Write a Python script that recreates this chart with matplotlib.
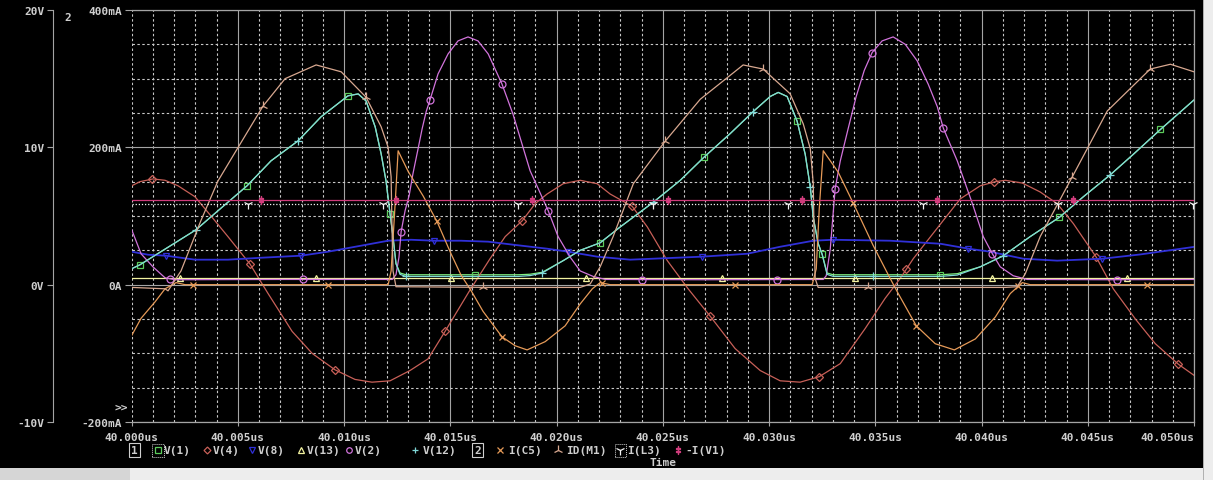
import numpy as np
import matplotlib.pyplot as plt
from matplotlib.lines import Line2D
from matplotlib.patches import Rectangle
from matplotlib.ticker import MultipleLocator

# time in ns after 40.000us, voltages in V, currents in mA
t_v1 = [0, 0.39, 3.03, 4.06, 5.43, 6.56, 7.83, 8.91, 10.18, 10.66, 11.03, 11.46,
        11.74, 11.97, 12.16, 12.30, 12.44, 12.63, 12.91, 15.0, 18.2, 18.75, 19.32,
        20.31, 21.11, 22.05, 22.99, 24.55, 25.82, 26.95, 28.17, 29.25, 30.05, 30.43,
        30.85, 31.32, 31.70, 31.94, 32.08, 32.31, 32.50, 32.73, 33.02, 36.0, 38.06,
        38.86, 39.94, 41.02, 42.29, 43.66, 44.79, 46.06, 47.15, 48.42, 50.0]
v1 = [1.16, 1.45, 4.0, 5.38, 7.2, 9.02, 10.47, 12.22, 13.75, 13.89, 13.38, 11.49,
      9.53, 7.56, 5.16, 3.49, 1.53, 0.85, 0.72, 0.72, 0.72, 0.76, 0.9,
      1.75, 2.5, 3.05, 4.2, 6.0, 7.6, 9.3, 11.0, 12.6, 13.7, 14.0,
      13.7, 11.9, 9.5, 7.1, 4.9, 3.0, 2.2, 0.85, 0.72, 0.72, 0.72,
      0.8, 1.3, 2.1, 3.5, 4.9, 6.4, 8.0, 9.5, 11.3, 13.45]
t_v12 = t_v1
v12 = [1.16, 1.45, 4.0, 5.38, 7.2, 9.02, 10.47, 12.22, 13.75, 13.89, 13.38, 11.49,
       9.53, 7.56, 5.16, 3.49, 1.53, 0.75, 0.6, 0.6, 0.6, 0.66, 0.85,
       1.75, 2.5, 3.05, 4.2, 6.0, 7.6, 9.3, 11.0, 12.6, 13.7, 14.0,
       13.7, 11.9, 9.5, 7.1, 4.9, 3.0, 2.2, 0.75, 0.6, 0.6, 0.6,
       0.7, 1.3, 2.1, 3.5, 4.9, 6.4, 8.0, 9.5, 11.3, 13.45]

t_v4 = [0, 0.39, 1.0, 1.57, 2.18, 2.98, 3.92, 4.53, 5.10, 5.57, 6.42, 7.55, 8.49,
        9.57, 10.51, 11.31, 12.16, 13.10, 13.95, 14.75, 15.88, 16.87, 17.58, 18.38,
        18.99, 19.55, 20.31, 21.11, 21.91, 22.52, 23.56, 24.27, 25.21, 26.19, 27.23,
        28.40, 29.58, 30.52, 31.46, 32.36, 33.35, 34.52, 35.46, 36.17, 36.79, 38.06,
        39.0, 39.94, 40.65, 41.12, 41.92, 42.76, 43.56, 44.32, 45.40, 46.20, 47.24,
        48.18, 49.27, 50.0]
v4 = [7.2, 7.5, 7.7, 7.6, 7.2, 6.4, 4.65, 3.5, 2.4, 1.5, -0.65, -3.4, -5.0,
      -6.2, -6.9, -7.1, -7.0, -6.25, -5.4, -3.4, -0.5, 1.9, 3.5, 4.65,
      5.9, 6.6, 7.35, 7.6, 7.35, 6.6, 5.7, 4.2, 1.75, -0.3, -2.3,
      -4.65, -6.25, -7.0, -7.1, -6.7, -5.75, -3.2, -1.0, 0.45, 1.9, 4.4,
      6.25, 7.2, 7.5, 7.6, 7.4, 6.75, 5.9, 4.45, 2.0, -0.3, -2.5,
      -4.3, -5.8, -6.6]

t_v8 = [0, 0.77, 1.61, 2.98, 4.53, 6.09, 7.97, 9.24, 10.80, 12.07, 13.15, 14.23,
        15.50, 16.78, 17.95, 19.55, 20.54, 21.91, 23.46, 26.86, 28.97, 30.52, 32.08,
        33.02, 35.70, 38.06, 39.38, 40.4, 41.96, 43.56, 45.69, 47.47, 50.0]
v8 = [2.4, 2.18, 2.11, 1.82, 1.82, 1.96, 2.11, 2.4, 2.84, 3.2, 3.27, 3.2,
      3.2, 3.13, 2.91, 2.62, 2.4, 2.04, 1.82, 2.04, 2.25, 2.76, 3.2,
      3.27, 3.2, 2.98, 2.62, 2.4, 1.89, 1.75, 1.89, 2.2, 2.75]

t_v13 = [0, 50.0]
v13 = [0.52, 0.52]

t_v2 = [0, 0.44, 1.0, 1.57, 2.04, 7.0, 12.26, 12.44, 12.58, 12.68, 12.87, 13.06,
        13.24, 13.48, 13.67, 13.86, 14.04, 14.42, 14.89, 15.36, 15.83, 16.30, 16.78,
        17.43, 17.95, 18.75, 19.60, 20.07, 20.64, 21.11, 21.72, 22.29, 27.0, 32.55,
        32.69, 32.88, 33.11, 33.35, 33.72, 34.10, 34.48, 34.85, 35.32, 35.84, 36.41,
        36.97, 37.49, 37.92, 38.20, 38.86, 39.57, 40.08, 40.51, 40.88, 41.49, 42.15,
        46.0, 50.0]
v2 = [4.0, 2.25, 1.3, 0.5, 0.36, 0.38, 0.38, 0.73, 2.0, 3.85, 5.4, 6.5,
      8.1, 9.9, 11.35, 12.6, 13.45, 15.35, 16.8, 17.75, 18.04, 17.75, 16.8,
      14.6, 12.4, 8.3, 5.4, 3.5, 2.0, 1.0, 0.6, 0.38, 0.36, 0.38,
      0.65, 2.6, 7.0, 9.0, 11.35, 13.7, 15.6, 16.9, 17.75, 18.04, 17.5,
      16.3, 14.6, 12.95, 11.4, 9.0, 5.9, 3.5, 2.25, 1.3, 0.65, 0.38,
      0.36, 0.38]

t_ic5 = [0, 0.44, 1.10, 1.57, 2.09, 2.51, 7.0, 12.07, 12.21, 12.40, 12.54, 13.01,
         13.72, 14.37, 15.03, 15.50, 15.98, 16.54, 17.43, 18.05, 18.61, 19.46, 20.40,
         21.11, 21.68, 22.05, 22.52, 27.0, 32.03, 32.22, 32.36, 32.55, 33.25, 34.05,
         34.90, 35.70, 36.08, 36.93, 37.82, 38.72, 39.71, 40.65, 41.35, 41.92, 42.29,
         46.0, 50.0]
ic5 = [-74, -49, -25, -6, 3, 0, 0, 0, 20, 118, 195, 165,
       129, 92, 45, 14, -9, -39, -76, -89, -95, -83, -60,
       -28, -6, 3, 0, 0, 0, 23, 110, 195, 164, 113,
       57, 9, -13, -60, -86, -95, -79, -47, -13, 3, 0,
       0, 0]

t_id = [0, 1.57, 1.71, 2.32, 3.24, 4.06, 4.99, 6.18, 7.22, 8.68, 9.86, 11.03,
        11.74, 12.07, 12.21, 12.26, 12.30, 12.44, 17.0, 21.11, 21.58, 22.05, 22.66,
        23.61, 25.11, 26.76, 28.78, 29.72, 30.99, 31.61, 31.94, 32.08, 32.12, 32.17,
        32.31, 37.0, 41.12, 41.68, 42.06, 42.76, 44.27, 45.92, 47.94, 48.89, 50.0]
idm1 = [-4, -6, -9, 20, 92, 151, 199, 260, 300, 320, 310, 273,
        230, 200, 157, 70, 20, -3, -4, -4, 1, 26, 70,
        147, 209, 270, 320, 314, 278, 234, 198, 147, 67, 9,
        -4, -4, -4, -3, 16, 70, 157, 253, 314, 321, 310]

t_il3 = [0, 50.0]
il3 = [118, 118]
t_iv1 = [0, 50.0]
iv1 = [123, 123]

# where the scope put its trace symbols (ns)
m_v1 = [0.39, 5.43, 10.18, 12.16, 16.16, 22.05, 26.95, 31.32, 32.50, 38.06, 43.66, 48.42]
m_v4 = [0.96, 5.57, 9.57, 14.75, 18.38, 23.56, 27.23, 32.36, 36.46, 40.6, 45.4, 49.27]
m_v8 = [1.61, 7.97, 14.23, 20.54, 26.86, 33.02, 39.38, 45.69]
m_v13 = [2.28, 8.68, 15.03, 21.39, 27.79, 34.05, 40.5, 46.86]
m_v2 = [1.82, 8.07, 12.68, 14.04, 17.43, 19.6, 24.03, 30.38, 33.11, 34.85, 38.2, 40.51, 46.39]
m_v12 = [3.03, 7.83, 12.91, 19.32, 24.55, 29.25, 31.94, 34.9, 41.02, 46.06]
m_ic5 = [2.89, 9.24, 14.37, 17.43, 22.14, 28.4, 33.96, 36.93, 41.73, 47.8]
m_id = [6.18, 11.03, 16.54, 25.11, 29.72, 34.67, 44.27, 47.94]
m_il3 = [5.48, 11.84, 18.19, 24.55, 30.9, 37.26, 43.61, 49.97]
m_iv1 = [6.09, 12.44, 18.85, 25.25, 31.56, 37.92, 44.32]

x_ticks = [0, 5, 10, 15, 20, 25, 30, 35, 40, 45, 50]
x_labels = ['40.000us', '40.005us', '40.010us', '40.015us', '40.020us', '40.025us',
            '40.030us', '40.035us', '40.040us', '40.045us', '40.050us']
v_ticks = [-10, 0, 10, 20]
v_labels = ['-10V', '0V', '10V', '20V']
i_ticks = [-200, 0, 200, 400]
i_labels = ['-200mA', '0A', '200mA', '400mA']

C_V1, C_V4, C_V8, C_V13 = '#80f080', '#c86058', '#3030d8', '#f2f2a0'
C_V2, C_V12, C_IC5, C_ID = '#d274dc', '#80d8d8', '#e69a58', '#d8a890'
C_IL3, C_IV1 = '#f4f4f4', '#d03c7c'
GRID = '#a4a4a4'
TXT = '#cfcfcf'
FONT = 'DejaVu Sans Mono'
FW = 'bold'

W, H = 1213, 481
fig = plt.figure(figsize=(W / 100, H / 100), dpi=100, facecolor='black')
L, R, T, B = 131.7, 1194, 11, 423
ax = fig.add_axes([L / W, 1 - B / H, (R - L) / W, (B - T) / H])
ax.set_facecolor('black')
ax.set_xlim(0, 50)
ax.set_ylim(-10, 20)
ax2 = ax.twinx()
ax2.set_ylim(-200, 400)

# grid like the probe window
ax.xaxis.set_major_locator(MultipleLocator(5))
ax.xaxis.set_minor_locator(MultipleLocator(1))
ax.yaxis.set_major_locator(MultipleLocator(10))
ax.yaxis.set_minor_locator(MultipleLocator(2.5))
ax.set_axisbelow(True)
ax.grid(which='major', color=GRID, lw=0.8, ls='-')
ax.grid(which='minor', color='#c8c8c8', lw=0.8, ls=(0, (2.2, 2.2)))

ax.set_xticks(x_ticks)
ax.set_xticklabels(x_labels)
ax.xaxis.get_major_ticks()[0].gridline.set_linestyle((0, (2.2, 2.2)))
ax.xaxis.get_major_ticks()[0].gridline.set_color('#c8c8c8')
ax.tick_params(axis='x', which='major', colors=GRID, length=3, width=0.8, pad=4,
               labelcolor=TXT, labelsize=8)
ax.tick_params(axis='x', which='minor', length=0)
for lab in ax.get_xticklabels():
    lab.set_fontfamily(FONT)
    lab.set_fontweight(FW)
ax.get_xticklabels()[-1].set_ha('right')

# voltage axis pulled out to the left
ax.spines['left'].set_position(('axes', (52.5 - L) / (R - L)))
ax.spines['left'].set_color(GRID)
for s in ['top', 'right', 'bottom']:
    ax.spines[s].set_color(GRID)
    ax.spines[s].set_linewidth(0.9)
ax.set_yticks(v_ticks)
ax.set_yticklabels(v_labels)
ax.tick_params(axis='y', which='major', colors=GRID, length=4, width=0.8, pad=2,
               labelcolor=TXT, labelsize=8)
ax.tick_params(axis='y', which='minor', length=0)
for lab in ax.get_yticklabels():
    lab.set_fontfamily(FONT)
    lab.set_fontweight(FW)

# current axis at the plot edge
for s in ax2.spines.values():
    s.set_visible(False)
ax2.yaxis.tick_left()
ax2.set_yticks(i_ticks)
ax2.set_yticklabels(i_labels)
ax2.tick_params(axis='y', colors=GRID, length=5, width=0.8, pad=2,
                labelcolor=TXT, labelsize=8)
for lab in ax2.get_yticklabels():
    lab.set_fontfamily(FONT)
    lab.set_fontweight(FW)


def trace(axis, t, v, color, marker, mt, ls='-', ms=5, z=2, mcolor=None, lw=0.9):
    mc = mcolor or color
    axis.plot(t, v, color=color, lw=lw, ls=ls, zorder=z)
    axis.plot(mt, np.interp(mt, t, v), ls='none', marker=marker, ms=ms, mfc='none',
              mec=mc, mew=0.9, zorder=z, clip_on=False)


trace(ax, t_v1, v1, C_V1, 's', m_v1, mcolor='#5ccc5c')
trace(ax, t_v4, v4, C_V4, 'D', m_v4, ms=4)
trace(ax, t_v8, v8, C_V8, 'v', m_v8, lw=1.3)
trace(ax, t_v13, v13, C_V13, '^', m_v13)
trace(ax, t_v2, v2, C_V2, 'o', m_v2)
trace(ax, t_v12, v12, C_V12, '+', m_v12, ms=6)
trace(ax2, t_ic5, ic5, C_IC5, 'x', m_ic5)
trace(ax2, t_id, idm1, C_ID, '2', m_id, ms=7)
trace(ax2, t_il3, il3, C_IL3, '1', m_il3, ls=(0, (1, 1.5)), ms=7)
trace(ax2, t_iv1, iv1, C_IV1, r'$\ddag$', m_iv1, ms=6)

# small screen annotations
fig.text(68 / W, 1 - 18 / H, '2', color=TXT, fontsize=8, family=FONT, weight=FW,
         ha='center', va='center')
fig.text(121 / W, 1 - 408 / H, '>>', color=TXT, fontsize=8, family=FONT, weight=FW,
         ha='center', va='center')

# legend row
ly = 1 - 451 / H


def fx(px):
    return px / W


def sym(px, marker, color, ms=5):
    fig.add_artist(Line2D([fx(px)], [ly], transform=fig.transFigure, ls='none',
                          marker=marker, ms=ms, mfc='none', mec=color, mew=0.9))


def lab(px, s):
    fig.text(fx(px), ly, s, color=TXT, fontsize=8, family=FONT, weight=FW,
             ha='left', va='center')


def boxed(px, s):
    fig.text(fx(px), ly, s, color=TXT, fontsize=8, family=FONT, weight=FW,
             ha='center', va='center',
             bbox=dict(boxstyle='square,pad=0.15', fc='black', ec=TXT, lw=0.8))


boxed(134.5, '1')
fig.add_artist(Rectangle((fx(151.5), 1 - 458 / H), 12 / W, 13 / H, transform=fig.transFigure,
                         fill=False, ec=TXT, lw=0.7, ls=(0, (1, 1))))
sym(157.5, 's', '#5ccc5c', 4)
lab(164, 'V(1)')
sym(207, 'D', C_V4, 3.5)
lab(213, 'V(4)')
sym(252, 'v', C_V8, 4)
lab(258, 'V(8)')
sym(301, '^', C_V13, 4)
lab(307, 'V(13)')
sym(349, 'o', C_V2, 4)
lab(355, 'V(2)')
sym(415, '+', C_V12, 5)
lab(423, 'V(12)')
boxed(477.5, '2')
sym(500, 'x', C_IC5, 5)
lab(508, 'I(C5)')
sym(558, '2', C_ID, 7)
lab(566, 'ID(M1)')
fig.add_artist(Rectangle((fx(614.5), 1 - 458 / H), 11 / W, 13 / H, transform=fig.transFigure,
                         fill=False, ec=TXT, lw=0.7, ls=(0, (1, 1))))
sym(620, '1', C_IL3, 7)
lab(627, 'I(L3)')
sym(678, r'$\ddag$', C_IV1, 6)
lab(685, '-I(V1)')
fig.text(fx(663), 1 - 463 / H, 'Time', color=TXT, fontsize=8, family=FONT, weight=FW,
         ha='center', va='center')

# window chrome at the bottom and right edge
fig.add_artist(Rectangle((0, 0), 1, 12 / H, transform=fig.transFigure, fc='#ededed', ec='none'))
fig.add_artist(Rectangle((0, 0), 130 / W, 12 / H, transform=fig.transFigure, fc='#d6d6d6', ec='none'))
fig.add_artist(Rectangle((1203 / W, 0), 10 / W, 1, transform=fig.transFigure, fc='#ededed',
                         ec='#b0b0b0', lw=0.7))

fig.savefig('out.png', dpi=100, facecolor='black')
